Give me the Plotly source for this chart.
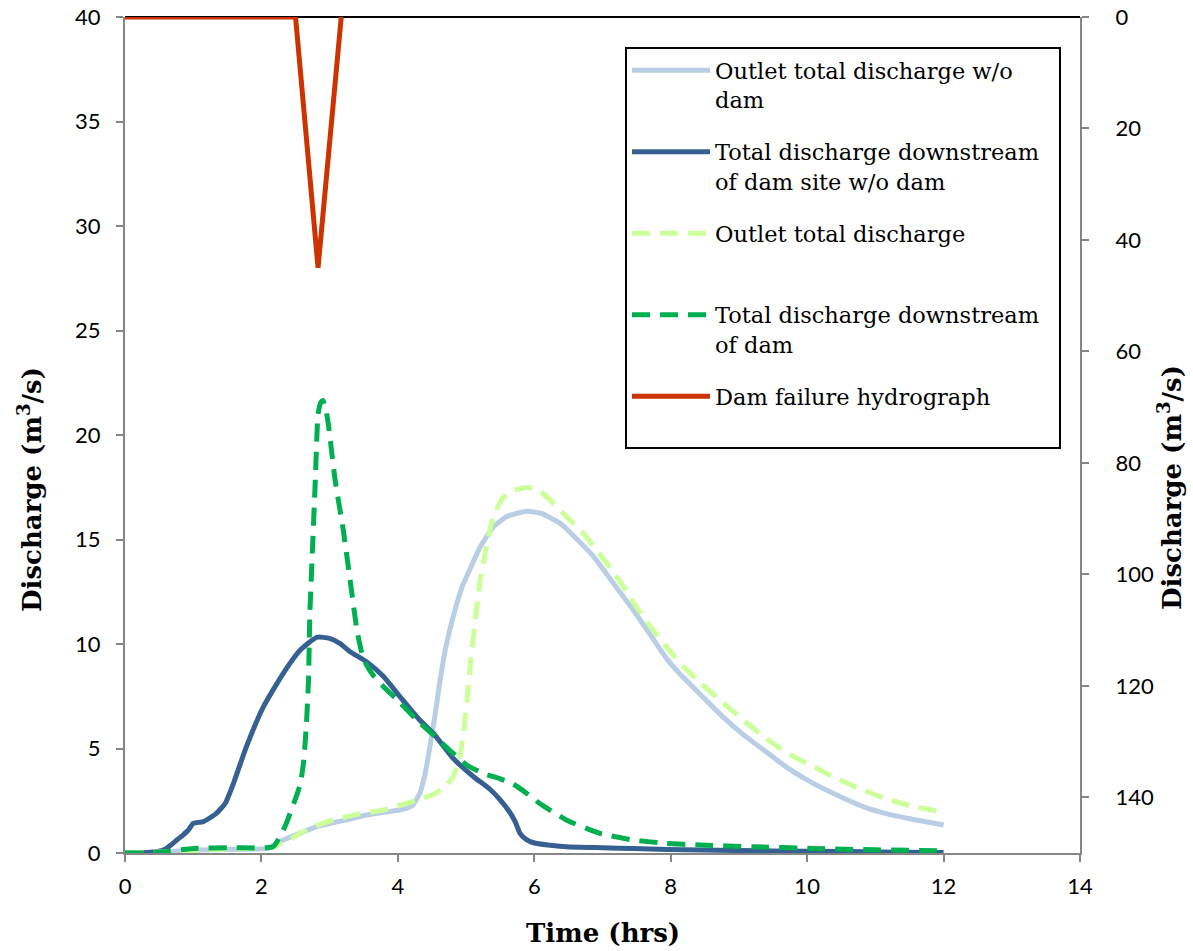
import plotly.graph_objects as go

# ---- data ----
names = [
    "Outlet total discharge w/o<br>dam",
    "Total discharge downstream&nbsp;&nbsp;<br>of dam site w/o dam",
    "Outlet total discharge<br>&nbsp;",
    "Total discharge downstream<br>of dam",
    "Dam failure hydrograph<br>&nbsp;",
]

t_outlet_nodam = [0, 0.5, 1.1, 1.6, 2.08, 2.32, 2.57, 2.81, 3.05, 3.3, 3.54, 3.8, 4.03, 4.13, 4.22, 4.32,
                  4.4, 4.47, 4.55, 4.62, 4.7, 4.81, 4.95, 5.06, 5.2, 5.4, 5.6, 5.89, 6.1, 6.38, 6.6,
                  6.87, 7.15, 7.45, 7.7, 7.94, 8.14, 8.43, 8.77, 9.05, 9.36, 9.7, 10.09, 10.45, 10.82,
                  11.2, 11.6, 12.0]
q_outlet_nodam = [0, 0.05, 0.14, 0.18, 0.22, 0.62, 0.95, 1.26, 1.45, 1.62, 1.82, 1.95, 2.06, 2.14, 2.3, 2.85,
                  3.8, 5.09, 6.7, 8.28, 9.8, 11.3, 12.8, 13.6, 14.6, 15.6, 16.1, 16.35, 16.25, 15.77, 15.1,
                  14.18, 12.95, 11.63, 10.45, 9.3, 8.55, 7.6, 6.5, 5.7, 4.93, 4.1, 3.33, 2.75, 2.22,
                  1.85, 1.58, 1.34]

t_down_nodam = [0, 0.27, 0.45, 0.59, 0.68, 0.76, 0.85, 0.93, 1.0, 1.15, 1.34, 1.47, 1.59, 1.78, 2.03, 2.32,
                2.57, 2.81, 3.0, 3.15, 3.3, 3.54, 3.79, 4.03, 4.32, 4.52, 4.81, 5.11, 5.35, 5.5, 5.64,
                5.72, 5.79, 5.88, 5.99, 6.2, 6.47, 7.0, 7.45, 8.43, 9.5, 10.5, 11.3, 12.0]
q_down_nodam = [0, 0.01, 0.06, 0.18, 0.4, 0.62, 0.86, 1.1, 1.42, 1.5, 1.9, 2.38, 3.33, 5.09, 7.0, 8.6,
                9.71, 10.32, 10.27, 10.03, 9.63, 9.15, 8.44, 7.48, 6.36, 5.73, 4.53, 3.65, 3.05, 2.54, 1.95,
                1.5, 0.94, 0.65, 0.49, 0.38, 0.3, 0.25, 0.21, 0.14, 0.1, 0.07, 0.04, 0.02]

t_outlet = [0, 0.5, 1.1, 1.6, 2.17, 2.4, 2.57, 2.8, 3.05, 3.4, 3.79, 4.13, 4.35, 4.52, 4.68, 4.81, 4.91,
            4.96, 5.01, 5.06, 5.13, 5.2, 5.3, 5.4, 5.52, 5.64, 5.89, 6.05, 6.23, 6.47, 6.72, 6.96, 7.21,
            7.45, 7.7, 7.94, 8.18, 8.45, 8.72, 9.05, 9.36, 9.7, 10.09, 10.45, 10.82, 11.2, 11.6, 12.0]
q_outlet = [0, 0.05, 0.14, 0.2, 0.3, 0.62, 0.94, 1.3, 1.58, 1.85, 2.06, 2.38, 2.6, 2.8, 3.15, 3.65, 4.6,
            5.73, 7.2, 8.92, 11.0, 12.9, 14.7, 16.1, 16.9, 17.29, 17.49, 17.4, 16.89, 16.1, 15.29, 14.3, 13.22,
            12.0, 10.85, 9.85, 8.95, 8.1, 7.32, 6.4, 5.57, 4.8, 4.13, 3.55, 3.01, 2.55, 2.2, 1.95]

t_down = [0, 0.46, 1.0, 1.59, 2.17, 2.27, 2.35, 2.42, 2.5, 2.57, 2.62, 2.66, 2.69, 2.71, 2.75, 2.79,
          2.83, 2.87, 2.9, 2.94, 2.98, 3.08, 3.2, 3.3, 3.4, 3.47, 3.54, 3.65, 3.79, 4.03, 4.28, 4.52, 4.81,
          5.01, 5.25, 5.5, 5.69, 5.85, 6.08, 6.47, 6.96, 7.45, 7.94, 8.43, 9.2, 10.09, 11.0, 12.0]
q_down = [0, 0.02, 0.22, 0.25, 0.3, 0.78, 1.3, 1.9, 2.6, 3.3, 4.4, 6.2, 8.28, 11.47, 14.65, 17.85,
          21.0, 21.55, 21.65, 21.3, 20.55, 17.85, 15.45, 13.06, 10.67, 9.6, 9.0, 8.45, 7.96, 7.2, 6.36, 5.65, 4.77,
          4.21, 3.81, 3.55, 3.3, 2.95, 2.37, 1.58, 0.94, 0.62, 0.46, 0.38, 0.3, 0.22, 0.15, 0.11]

t_dam = [0, 2.5, 2.83, 3.17]
q_dam = [0, 0, 45, 0]

colors = ["#B9CDE5", "#376092", "#CCFF99", "#00B050", "#CC3300"]
dashes = ["solid", "solid", "18px,10px", "18px,10px", "solid"]
shapes_ = ["spline", "spline", "spline", "spline", "linear"]

x_ticks = list(range(0, 15, 2))
y_ticks = list(range(0, 41, 5))
y2_ticks = list(range(0, 141, 20))

x_title = "<b>Time (hrs)</b>"
y_title = "<b>Discharge (m<sup>3</sup>/s)</b>"

# ---- figure ----
fig = go.Figure()
series = [
    (t_outlet_nodam, q_outlet_nodam, "y"),
    (t_down_nodam, q_down_nodam, "y"),
    (t_outlet, q_outlet, "y"),
    (t_down, q_down, "y"),
    (t_dam, q_dam, "y2"),
]
for i, (tx, qy, ax) in enumerate(series):
    fig.add_trace(go.Scatter(
        x=tx, y=qy, mode="lines", name=names[i], yaxis=ax,
        legendgroup=f"g{i}",
        line=dict(color=colors[i], width=5, dash=dashes[i], shape=shapes_[i], smoothing=0.5),
        cliponaxis=False,
    ))

axis_line = "#868686"
tick_font = dict(family="Lato", size=22, color="#000000")
title_font = dict(family="DejaVu Serif", size=26, color="#000000")

fig.update_layout(
    width=1193, height=951,
    margin=dict(l=125, r=113, t=17, b=98),
    paper_bgcolor="white", plot_bgcolor="white",
    showlegend=True,
    xaxis=dict(
        range=[0, 14], tickvals=x_ticks, ticktext=[str(v) for v in x_ticks],
        showgrid=False, zeroline=False, showline=True, linecolor=axis_line, linewidth=2,
        ticks="outside", ticklen=7, tickwidth=2, tickcolor=axis_line,
        tickfont=tick_font, ticklabelstandoff=6, automargin=False,
    ),
    yaxis=dict(
        range=[0, 40], tickvals=y_ticks, ticktext=[str(v) for v in y_ticks],
        showgrid=False, zeroline=False, showline=True, linecolor=axis_line, linewidth=2,
        ticks="outside", ticklen=7, tickwidth=2, tickcolor=axis_line,
        tickfont=tick_font, ticklabelstandoff=11, automargin=False,
    ),
    yaxis2=dict(
        overlaying="y", side="right", range=[150, 0],
        tickvals=y2_ticks, ticktext=[str(v) for v in y2_ticks],
        showgrid=False, zeroline=False, showline=True, linecolor=axis_line, linewidth=2,
        ticks="outside", ticklen=7, tickwidth=2, tickcolor=axis_line,
        tickfont=tick_font, ticklabelstandoff=22, automargin=False,
    ),
    legend=dict(
        x=(625 - 125) / 955, y=(853 - 47) / 836, xanchor="left", yanchor="top",
        bgcolor="white", bordercolor="black", borderwidth=2,
        font=dict(family="DejaVu Serif", size=22.5, color="#000000"),
        itemwidth=78, tracegroupgap=20, valign="top",
        traceorder="grouped",
    ),
    annotations=[
        dict(text=x_title, xref="paper", yref="paper", x=0.5, y=(853 - 933) / 836,
             xanchor="center", yanchor="middle", showarrow=False, font=title_font),
        dict(text=y_title, xref="paper", yref="paper", x=(30 - 125) / 955, y=(853 - 490) / 836,
             xanchor="center", yanchor="middle", textangle=-90, showarrow=False, font=title_font),
        dict(text=y_title, xref="paper", yref="paper", x=(1170 - 125) / 955, y=(853 - 488) / 836,
             xanchor="center", yanchor="middle", textangle=-90, showarrow=False, font=title_font),
    ],
    shapes=[dict(type="line", xref="paper", yref="paper", x0=0, x1=1, y0=1, y1=1,
                 line=dict(color="black", width=2), layer="below")],
)

fig.write_html("out.html")
